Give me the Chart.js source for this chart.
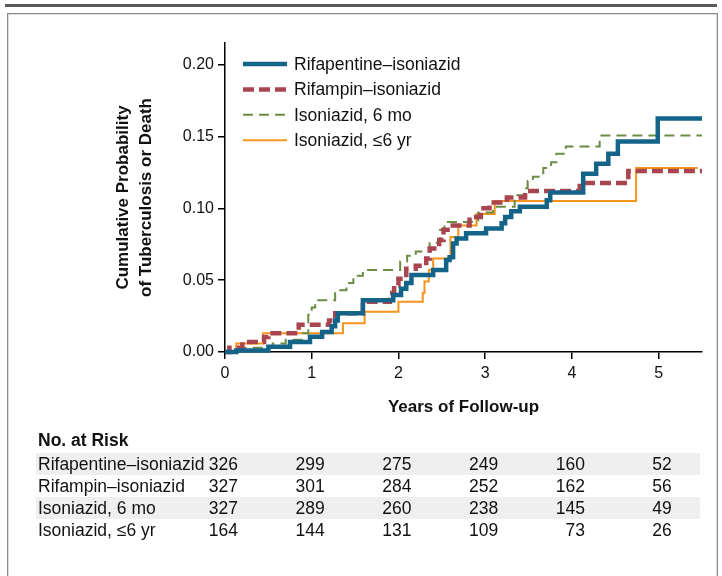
<!DOCTYPE html>
<html>
<head>
<meta charset="utf-8">
<script src="https://cdn.jsdelivr.net/npm/chart.js@4.4.0/dist/chart.umd.min.js"></script>
<style>
body{margin:0;width:722px;height:576px;overflow:hidden;background:#fff;font-family:"Liberation Sans",Arial,sans-serif;color:#111}
#rule{position:absolute;left:5px;top:4px;width:712px;height:3px;background:#5a5a5a}
#frame{position:absolute;left:7px;top:13px;width:709px;height:600px;border:1px solid #8c8c8c;box-shadow:inset 0 0 0 1px #dcdcdc}
#wrap{position:absolute;left:0;top:0;width:722px;height:420px}
#risk{position:absolute;left:0;top:0;width:722px;height:576px}
.band{position:absolute;left:36px;width:664px;height:22px;background:#efefef}
.cell{position:absolute;font-size:17.5px;line-height:22px;white-space:nowrap}
.head{position:absolute;left:38px;top:429px;font-size:17.5px;font-weight:bold;line-height:22px}
</style>
</head>
<body>
<div id="rule"></div>
<div id="frame"></div>
<div id="wrap"><canvas id="km" width="722" height="420" style="width:722px;height:420px"></canvas></div>
<div id="risk"></div>
<script>
const FONT = '"Liberation Sans", Arial, sans-serif';

// axis ticks
const years = [0, 1, 2, 3, 4, 5];
const probTicks = [0, 0.05, 0.10, 0.15, 0.20];

const seriesNames = ['Rifapentine–isoniazid', 'Rifampin–isoniazid', 'Isoniazid, 6 mo', 'Isoniazid, ≤6 yr'];

// step curves (year, cumulative probability)
const rifapentineYears = [0, 0.13, 0.5, 0.75, 0.98, 1.12, 1.23, 1.27, 1.3, 1.59, 1.94, 2.03, 2.09, 2.15, 2.4, 2.55, 2.59, 2.63, 2.67, 2.78, 3.01, 3.19, 3.23, 3.3, 3.4, 3.71, 3.75, 4.13, 4.28, 4.42, 4.53, 4.99, 5.5];
const rifapentineProb  = [0, 0.001, 0.0037, 0.007, 0.0106, 0.014, 0.018, 0.022, 0.027, 0.036, 0.0396, 0.044, 0.048, 0.0535, 0.057, 0.064, 0.066, 0.0755, 0.079, 0.0826, 0.086, 0.0896, 0.094, 0.098, 0.101, 0.1056, 0.111, 0.124, 0.131, 0.138, 0.1465, 0.1625, 0.1625];

const rifampinYears = [0, 0.05, 0.2, 0.45, 0.5, 0.85, 1.2, 1.27, 1.59, 1.9, 1.95, 2.0, 2.09, 2.2, 2.32, 2.36, 2.47, 2.52, 2.6, 2.82, 2.86, 2.95, 3.05, 3.25, 3.46, 4.09, 4.65, 5.5];
const rifampinProb  = [0, 0.003, 0.007, 0.0105, 0.013, 0.019, 0.022, 0.027, 0.035, 0.041, 0.0465, 0.051, 0.058, 0.06, 0.065, 0.072, 0.078, 0.085, 0.088, 0.092, 0.094, 0.1, 0.104, 0.1075, 0.112, 0.1176, 0.126, 0.126];

const isoniazid6moYears = [0, 0.18, 0.55, 0.7, 0.9, 0.96, 1.0, 1.04, 1.27, 1.4, 1.48, 1.59, 2.02, 2.1, 2.2, 2.36, 2.48, 2.53, 2.92, 3.09, 3.34, 3.46, 3.49, 3.55, 3.67, 3.76, 3.82, 3.93, 4.32, 5.5];
const isoniazid6moProb  = [0, 0.003, 0.006, 0.0085, 0.013, 0.026, 0.031, 0.036, 0.043, 0.048, 0.053, 0.057, 0.063, 0.067, 0.07, 0.076, 0.085, 0.0905, 0.097, 0.101, 0.109, 0.114, 0.119, 0.122, 0.128, 0.132, 0.138, 0.143, 0.1507, 0.1507];

const isoniazid6yrYears = [0, 0.13, 0.44, 1.36, 1.61, 2.0, 2.28, 2.3, 2.35, 2.4, 2.6, 2.69, 2.9, 3.11, 4.74, 5.45];
const isoniazid6yrProb  = [0, 0.006, 0.013, 0.02, 0.028, 0.035, 0.041, 0.049, 0.057, 0.065, 0.08, 0.088, 0.096, 0.105, 0.128, 0.128];

// number at risk under each year tick
const atRiskRifapentine = [326, 299, 275, 249, 160, 52];
const atRiskRifampin    = [327, 301, 284, 252, 162, 56];
const atRisk6mo         = [327, 289, 260, 238, 145, 49];
const atRisk6yr         = [164, 144, 131, 109, 73, 26];

function toPoints(xs, ys) {
    return xs.map((x, i) => ({ x: x, y: ys[i] }));
}

function curve(label, xs, ys, color, width, dash) {
    return {
        label: label,
        data: toPoints(xs, ys),
        borderColor: color,
        borderWidth: width,
        borderDash: dash,
        stepped: 'before',
        pointRadius: 0,
        fill: false,
        clip: false
    };
}

// legend drawn inside the plot, top-left
const insideLegend = {
    id: 'insideLegend',
    afterDatasetsDraw(chart) {
        const { ctx, chartArea } = chart;
        ctx.save();
        ctx.font = '17.5px ' + FONT;
        ctx.textBaseline = 'middle';
        ctx.fillStyle = '#111';
        chart.data.datasets.forEach((ds, i) => {
            const y = chartArea.top + 21 + i * 25.4;
            const x0 = chartArea.left + 18;
            ctx.beginPath();
            ctx.lineWidth = ds.borderWidth;
            ctx.strokeStyle = ds.borderColor;
            ctx.setLineDash(ds.borderDash || []);
            ctx.moveTo(x0, y);
            ctx.lineTo(x0 + 44, y);
            ctx.stroke();
            ctx.setLineDash([]);
            ctx.fillText(ds.label, x0 + 51, y + 1);
        });
        ctx.restore();
    }
};

const chart = new Chart(document.getElementById('km'), {
    type: 'line',
    data: {
        datasets: [
            curve(seriesNames[0], rifapentineYears, rifapentineProb, '#14648a', 4.5, []),
            curve(seriesNames[1], rifampinYears, rifampinProb, '#a8454e', 4.5, [11, 5]),
            curve(seriesNames[2], isoniazid6moYears, isoniazid6moProb, '#6b8c45', 2, [10, 6]),
            curve(seriesNames[3], isoniazid6yrYears, isoniazid6yrProb, '#f7941d', 2, [])
        ]
    },
    options: {
        responsive: false,
        animation: false,
        layout: { padding: { left: 112, right: 20, top: 43, bottom: 0 } },
        plugins: { legend: { display: false }, tooltip: { enabled: false } },
        scales: {
            x: {
                type: 'linear',
                min: 0,
                max: 5.5,
                afterBuildTicks: s => { s.ticks = years.map(v => ({ value: v })); },
                afterFit: s => { s.height = 68; },
                border: { color: '#000', width: 1.5 },
                grid: { drawOnChartArea: false, drawTicks: true, tickLength: 7, color: '#000', lineWidth: 1.5 },
                ticks: { color: '#111', padding: 5, maxRotation: 0, font: { family: FONT, size: 16 }, callback: v => String(v) },
                title: { display: true, text: 'Years of Follow-up', color: '#111', font: { family: FONT, size: 17, weight: 'bold' }, padding: { top: 0, bottom: 2 } }
            },
            y: {
                type: 'linear',
                min: 0,
                max: 0.215,
                afterBuildTicks: s => { s.ticks = probTicks.map(v => ({ value: v })); },
                afterFit: s => { s.width = 113; },
                border: { color: '#000', width: 1.5 },
                grid: { drawOnChartArea: false, drawTicks: true, tickLength: 7, color: '#000', lineWidth: 1.5 },
                ticks: { color: '#111', padding: 4, font: { family: FONT, size: 16 }, callback: v => v.toFixed(2) },
                title: { display: true, text: ['Cumulative Probability', 'of Tuberculosis or Death'], color: '#111', font: { family: FONT, size: 17, weight: 'bold', lineHeight: 1.35 }, padding: { top: 0, bottom: 0 } }
            }
        }
    },
    plugins: [insideLegend]
});

// No. at Risk table, columns lined up with the x ticks
function buildRiskTable() {
    const box = document.getElementById('risk');
    const rows = [atRiskRifapentine, atRiskRifampin, atRisk6mo, atRisk6yr];
    let html = '<div class="head">No. at Risk</div>';
    rows.forEach((vals, r) => {
        const top = 453 + r * 22;
        if (r % 2 === 0) html += `<div class="band" style="top:${top}px"></div>`;
        html += `<div class="cell" style="left:38px;top:${top}px">${seriesNames[r]}</div>`;
        vals.forEach((v, c) => {
            const right = chart.scales.x.getPixelForValue(years[c]) + 13;
            html += `<div class="cell" style="left:${right}px;top:${top}px;transform:translateX(-100%)">${v}</div>`;
        });
    });
    box.innerHTML = html;
}
buildRiskTable();
</script>
</body>
</html>
